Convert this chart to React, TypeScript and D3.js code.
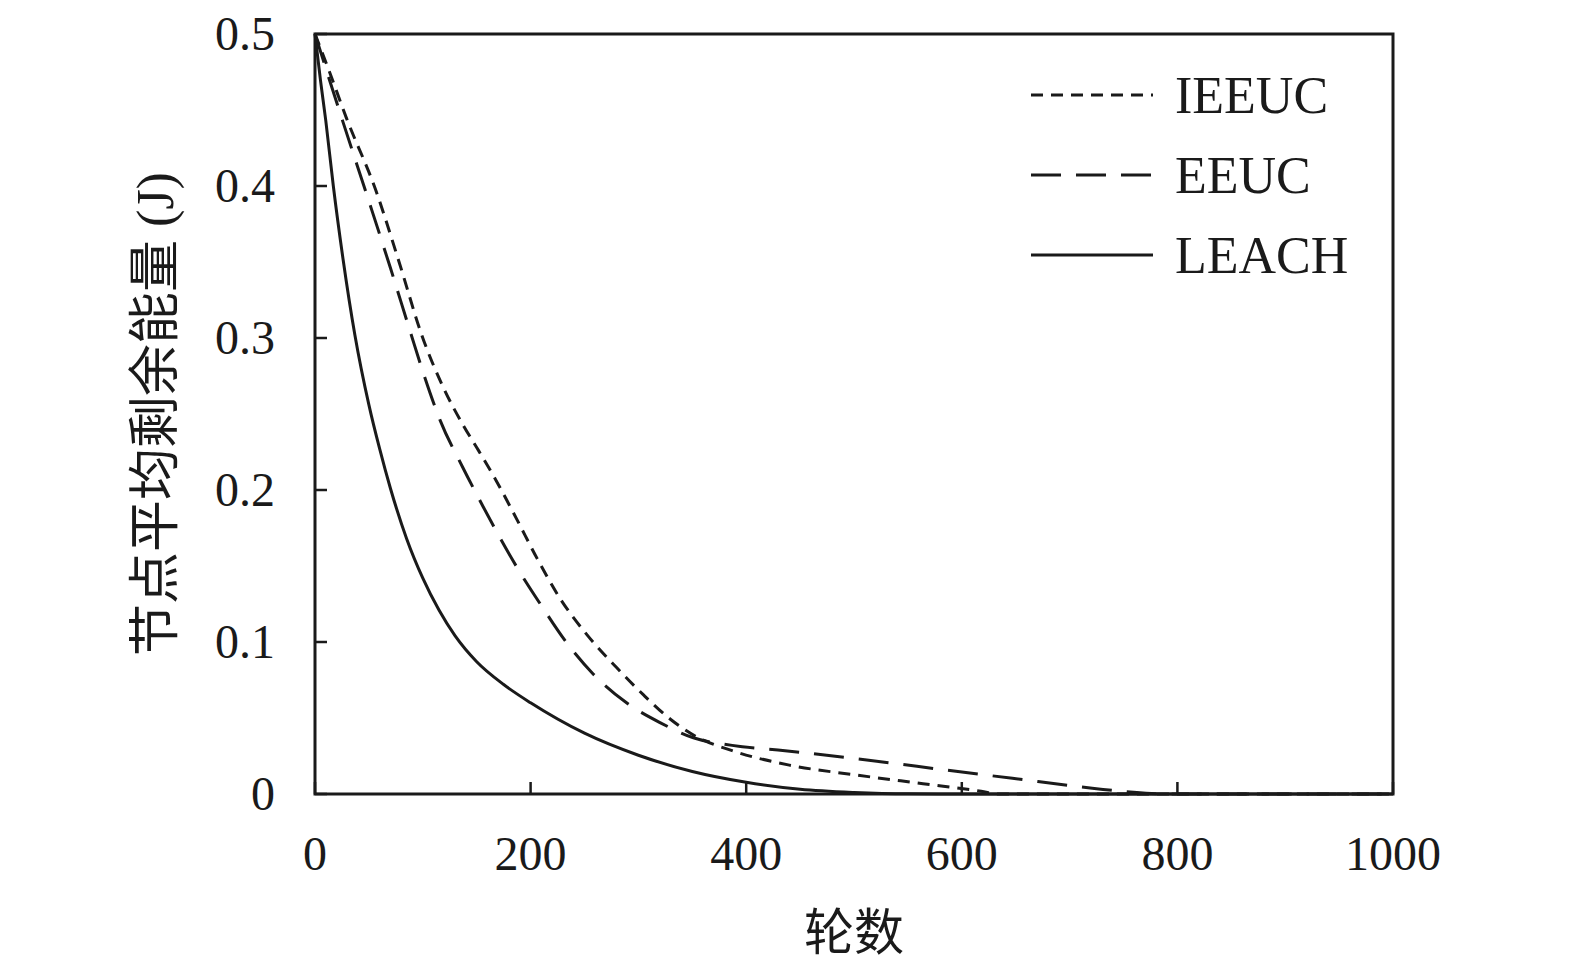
import { useRef, useEffect } from 'react';
import * as d3 from 'd3';

// rounds / average residual energy (J)
const ieeucRounds = [0, 14, 29, 56, 78, 99, 120, 138, 150, 169, 187, 206, 227, 252, 280, 305, 330, 353, 387, 440, 502, 564, 618, 635, 1000];
const ieeucEnergy = [0.5, 0.474, 0.445, 0.398, 0.35, 0.302, 0.266, 0.242, 0.228, 0.205, 0.181, 0.155, 0.129, 0.105, 0.083, 0.065, 0.049, 0.038, 0.0285, 0.019, 0.0125, 0.0068, 0.0018, 0, 0];

const eeucRounds = [0, 12, 26, 50, 70, 88, 100, 116, 137, 156, 172, 190, 209, 234, 258, 289, 320, 351, 387, 436, 510, 585, 647, 721, 771, 800, 1000];
const eeucEnergy = [0.5, 0.473, 0.442, 0.39, 0.346, 0.305, 0.278, 0.246, 0.215, 0.189, 0.168, 0.146, 0.125, 0.099, 0.079, 0.06, 0.047, 0.037, 0.032, 0.0285, 0.0225, 0.0158, 0.0103, 0.0038, 0.0005, 0, 0];

const leachRounds = [0, 5, 10, 17, 26, 37, 50, 60, 70, 85, 100, 115, 130, 150, 175, 200, 250, 300, 350, 400, 450, 500, 550, 600, 1000];
const leachEnergy = [0.5, 0.47, 0.443, 0.4, 0.352, 0.302, 0.256, 0.227, 0.201, 0.168, 0.142, 0.121, 0.104, 0.087, 0.072, 0.06, 0.04, 0.0255, 0.0148, 0.0077, 0.0031, 0.001, 0.0001, 0, 0];

const xTicks = [0, 200, 400, 600, 800, 1000];
const yTicks = [0, 0.1, 0.2, 0.3, 0.4, 0.5];

const seriesNames = ['IEEUC', 'EEUC', 'LEACH'];
const seriesDash = ['12,8', '30,15', null];

const xLabel = '轮数';
const yLabel = '节点平均剩余能量 (J)';

const latin = '"Liberation Serif", "Times New Roman", serif';
const cjk = '"Liberation Serif", "Noto Sans CJK SC", serif';

export default function App() {
  const svgRef = useRef<SVGSVGElement>(null);
  const width = 1575;
  const height = 969;

  useEffect(() => {
    if (!svgRef.current) return;
    const svg = d3.select(svgRef.current);
    svg.selectAll('*').remove();

    const margin = { top: 34, right: 182, bottom: 175, left: 315 };
    const innerW = width - margin.left - margin.right;
    const innerH = height - margin.top - margin.bottom;

    const x = d3.scaleLinear().domain([0, 1000]).range([0, innerW]);
    const y = d3.scaleLinear().domain([0, 0.5]).range([innerH, 0]);

    const g = svg.append('g').attr('transform', 'translate(' + margin.left + ',' + margin.top + ')');

    const series = [
      ieeucRounds.map((r, i) => [r, ieeucEnergy[i]] as [number, number]),
      eeucRounds.map((r, i) => [r, eeucEnergy[i]] as [number, number]),
      leachRounds.map((r, i) => [r, leachEnergy[i]] as [number, number]),
    ];

    const line = d3.line<[number, number]>()
      .x((d) => x(d[0]))
      .y((d) => y(d[1]))
      .curve(d3.curveMonotoneX);

    // Curves
    series.forEach((pts, i) => {
      g.append('path')
        .datum(pts)
        .attr('d', line)
        .attr('fill', 'none')
        .attr('stroke', '#1a1a1a')
        .attr('stroke-width', 3)
        .attr('stroke-linejoin', 'round')
        .attr('stroke-dasharray', seriesDash[i] ?? null);
    });

    // Frame
    g.append('rect')
      .attr('x', 0).attr('y', 0)
      .attr('width', innerW).attr('height', innerH)
      .attr('fill', 'none')
      .attr('stroke', '#1a1a1a')
      .attr('stroke-width', 3);

    // Inward ticks
    g.selectAll('line.xtick')
      .data(xTicks)
      .join('line')
      .attr('class', 'xtick')
      .attr('x1', (d) => x(d)).attr('x2', (d) => x(d))
      .attr('y1', innerH).attr('y2', innerH - 12)
      .attr('stroke', '#1a1a1a').attr('stroke-width', 2.5);

    g.selectAll('line.ytick')
      .data(yTicks)
      .join('line')
      .attr('class', 'ytick')
      .attr('x1', 0).attr('x2', 12)
      .attr('y1', (d) => y(d)).attr('y2', (d) => y(d))
      .attr('stroke', '#1a1a1a').attr('stroke-width', 2.5);

    // Tick labels
    g.selectAll('text.xlab')
      .data(xTicks)
      .join('text')
      .attr('class', 'xlab')
      .attr('x', (d) => x(d))
      .attr('y', innerH + 76)
      .attr('text-anchor', 'middle')
      .attr('font-family', latin)
      .attr('font-size', '48px')
      .attr('fill', '#1a1a1a')
      .text((d) => String(d));

    g.selectAll('text.ylab')
      .data(yTicks)
      .join('text')
      .attr('class', 'ylab')
      .attr('x', -40)
      .attr('y', (d) => y(d))
      .attr('dy', '0.33em')
      .attr('text-anchor', 'end')
      .attr('font-family', latin)
      .attr('font-size', '48px')
      .attr('fill', '#1a1a1a')
      .text((d) => (d === 0 ? '0' : d.toFixed(1)));

    // Axis titles
    g.append('text')
      .attr('x', innerW / 2)
      .attr('y', innerH + 156)
      .attr('text-anchor', 'middle')
      .attr('font-family', cjk)
      .attr('font-size', '50px')
      .attr('fill', '#1a1a1a')
      .text(xLabel);

    g.append('text')
      .attr('transform', 'translate(' + (-160) + ',' + innerH / 2 + ') rotate(-90)')
      .attr('dy', '0.35em')
      .attr('text-anchor', 'middle')
      .attr('font-family', cjk)
      .attr('font-size', '52px')
      .attr('fill', '#1a1a1a')
      .text(yLabel);

    // Legend
    const legend = g.append('g').attr('transform', 'translate(' + (1031 - margin.left) + ',' + (95 - margin.top) + ')');
    seriesNames.forEach((name, i) => {
      const row = legend.append('g').attr('transform', 'translate(0,' + i * 80 + ')');
      row.append('line')
        .attr('x1', 0).attr('x2', 122)
        .attr('y1', 0).attr('y2', 0)
        .attr('stroke', '#1a1a1a')
        .attr('stroke-width', 3)
        .attr('stroke-dasharray', seriesDash[i] ?? null);
      row.append('text')
        .attr('x', 144)
        .attr('y', 0)
        .attr('dy', '0.35em')
        .attr('font-family', latin)
        .attr('font-size', '52px')
        .attr('fill', '#1a1a1a')
        .text(name);
    });
  }, []);

  return (
    <div>
      <style>{'body{margin:0;background:#fff}'}</style>
      <svg ref={svgRef} width={width} height={height} viewBox={'0 0 ' + width + ' ' + height} style={{ display: 'block' }} />
    </div>
  );
}
